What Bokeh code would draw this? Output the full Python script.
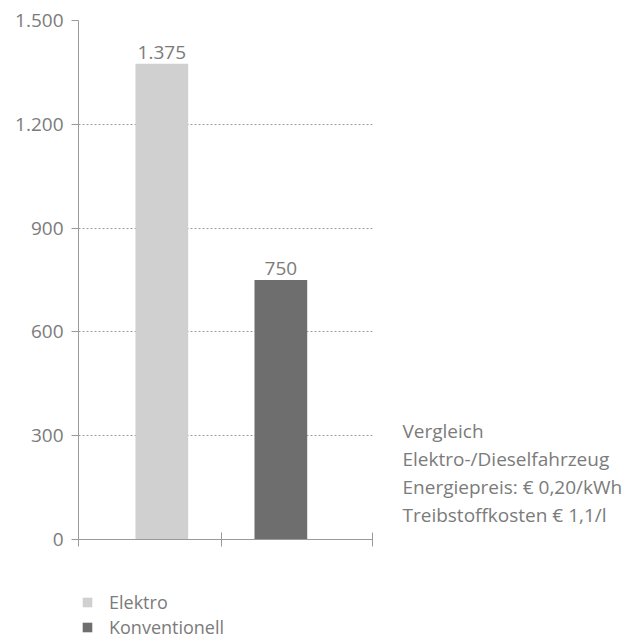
from bokeh.plotting import figure
from bokeh.layouts import column
from bokeh.models import (ColumnDataSource, Range1d, FixedTicker, CustomJSTickFormatter,
                          LabelSet, Legend, LegendItem, LinearAxis)
from bokeh.core.properties import value
from bokeh.embed import file_html
from bokeh.resources import INLINE

# --- data -------------------------------------------------------------
categories = ["Elektro", "Konventionell"]
costs = [1375, 750]
bar_colors = ["#d0d0d0", "#6e6e6e"]
y_ticks = [0, 300, 600, 900, 1200, 1500]
notes = ["Vergleich", "Elektro-/Dieselfahrzeug",
         "Energiepreis: € 0,20/kWh", "Treibstoffkosten € 1,1/l"]

FONT = "Open Sans"
TEXT_COLOR = "#7b7b7b"
AXIS_COLOR = "#9a9a9a"
WIDTH = 637


def de_number(v):
    return f"{v:,}".replace(",", ".")


xs = list(range(len(categories)))
source = ColumnDataSource(dict(
    x=xs, top=costs, label=[de_number(v) for v in costs],
))

p = figure(width=WIDTH, height=570, output_backend="svg", toolbar_location=None,
           x_range=Range1d(-0.7, 1.77), y_range=Range1d(0, 1500),
           min_border_left=78, min_border_right=265,
           min_border_top=20, min_border_bottom=31)
p.outline_line_color = None
p.background_fill_color = "white"
p.border_fill_color = "white"

for i in xs:
    p.vbar(x=[xs[i]], top=[costs[i]], width=0.443, bottom=0,
           fill_color=bar_colors[i], line_color=None)

# value labels above the bars
p.add_layout(LabelSet(x="x", y="top", text="label", source=source,
                      y_offset=5, text_align="center", text_baseline="bottom",
                      text_font=value(FONT), text_font_size="19px",
                      text_color=TEXT_COLOR))

# y axis
yax = p.yaxis[0]
yax.ticker = FixedTicker(ticks=y_ticks)
yax.formatter = CustomJSTickFormatter(
    code='return Math.round(tick).toString().replace(/\\B(?=(\\d{3})+(?!\\d))/g, ".");')
yax.axis_line_color = AXIS_COLOR
yax.major_tick_line_color = AXIS_COLOR
yax.major_tick_out = 7
yax.major_tick_in = 0
yax.minor_tick_line_color = None
yax.major_label_standoff = 8
yax.major_label_text_font = FONT
yax.major_label_text_font_size = "19px"
yax.major_label_text_color = TEXT_COLOR

# x axis: only boundary ticks, no labels
xax = p.xaxis[0]
xax.ticker = FixedTicker(ticks=[-0.7, 0.5, 1.77])
xax.formatter = CustomJSTickFormatter(code="return '';")
xax.axis_line_color = AXIS_COLOR
xax.major_tick_line_color = AXIS_COLOR
xax.major_tick_out = 7
xax.major_tick_in = 7
xax.minor_tick_line_color = None
xax.major_label_standoff = 0

# grid
p.xgrid.grid_line_color = None
p.ygrid.ticker = FixedTicker(ticks=y_ticks[1:])
p.ygrid.grid_line_color = AXIS_COLOR
p.ygrid.grid_line_dash = "2 2"
p.ygrid.grid_line_width = 1

# explanatory notes on the right, set as labels of a bare right-hand axis
note_pos = [313, 232, 151, 70]
notes_axis = LinearAxis(ticker=FixedTicker(ticks=note_pos),
                        major_label_overrides={k: t for k, t in zip(note_pos, notes)},
                        axis_line_color=None, major_tick_line_color=None,
                        minor_tick_line_color=None,
                        major_tick_in=0, major_tick_out=0,
                        major_label_standoff=30,
                        major_label_text_font=FONT,
                        major_label_text_font_size="19px",
                        major_label_text_color=TEXT_COLOR)
p.add_layout(notes_axis, "right")

# legend strip below the chart
leg = figure(width=WIDTH, height=69, output_backend="svg", toolbar_location=None,
             x_axis_location=None, y_axis_location=None,
             x_range=Range1d(0, 1), y_range=Range1d(0, 1),
             min_border=0)
leg.outline_line_color = None
leg.grid.visible = False
# zero-height swatch renderers that only feed the legend glyphs
swatches = [leg.vbar(x=[0.5], top=[0], bottom=[0], width=0.1,
                     fill_color=c, line_color=None)
            for c in bar_colors]
legend = Legend(items=[LegendItem(label=name, renderers=[r])
                       for name, r in zip(categories, swatches)],
                location=(3, 0), orientation="vertical",
                glyph_width=12, glyph_height=12, label_height=18,
                label_standoff=16, spacing=1, padding=0, margin=0,
                border_line_color=None, background_fill_alpha=0,
                label_text_font=FONT, label_text_font_size="18px",
                label_text_color=TEXT_COLOR)
leg.add_layout(legend, "center")

open("out.html", "w").write(file_html(column(p, leg, spacing=0), INLINE))
